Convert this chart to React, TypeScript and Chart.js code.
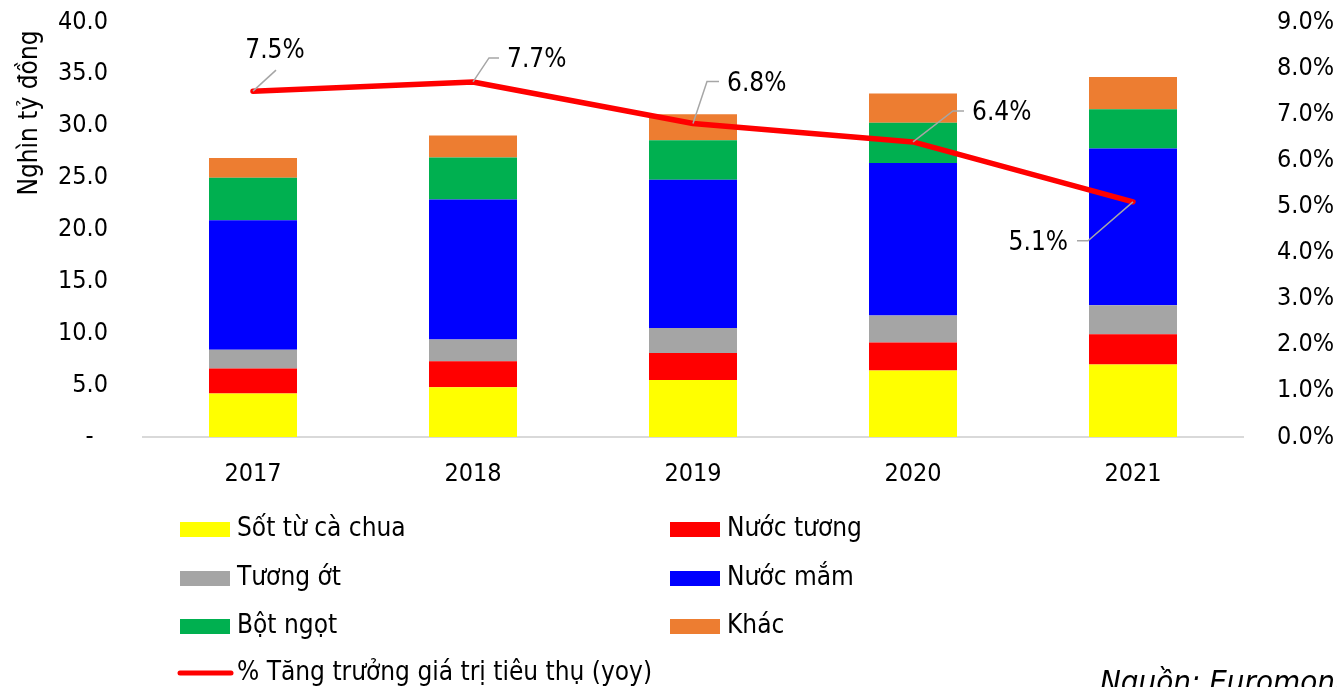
import React, { useEffect, useRef } from "react";
import { Chart, registerables } from "chart.js";

Chart.register(...registerables);

const YEARS = ["2017", "2018", "2019", "2020", "2021"];
const SOT_CA_CHUA = [4.2, 4.8, 5.5, 6.4, 7.0];
const NUOC_TUONG = [2.4, 2.5, 2.6, 2.7, 2.9];
const TUONG_OT = [1.8, 2.1, 2.4, 2.6, 2.8];
const NUOC_MAM = [12.5, 13.5, 14.3, 14.7, 15.1];
const BOT_NGOT = [4.1, 4.05, 3.8, 3.9, 3.8];
const KHAC = [1.9, 2.1, 2.5, 2.8, 3.1];
const GROWTH = [7.5, 7.7, 6.8, 6.4, 5.1];

const FONT = "'DejaVu Sans Condensed', 'DejaVu Sans', sans-serif";
const FS = 26;
const TFS = 25;

// leader line geometry per label: [dx1, dy1, dx2, dy2, textX, textY, align]
const LEADERS: [number, number, number, number, number, number, CanvasTextAlign][] = [
  [23, -21, 23, -21, 22, -40, "center"],
  [16, -24, 26, -24, 34, -22, "left"],
  [14, -42, 26, -42, 34, -39, "left"],
  [40, -31, 51, -31, 59, -29, "left"],
  [-45, 39, -56, 39, -65, 41, "right"],
];

const LEGEND_ITEMS = [
  { label: "Sốt từ cà chua", color: "#ffff00", col: 0, row: 0 },
  { label: "Nước tương", color: "#ff0000", col: 1, row: 0 },
  { label: "Tương ớt", color: "#a5a5a5", col: 0, row: 1 },
  { label: "Nước mắm", color: "#0000ff", col: 1, row: 1 },
  { label: "Bột ngọt", color: "#00b050", col: 0, row: 2 },
  { label: "Khác", color: "#ed7d31", col: 1, row: 2 },
];

const extrasPlugin = {
  id: "extras",
  afterDatasetsDraw(chart: any) {
    const ctx = chart.ctx;
    const meta = chart.getDatasetMeta(6);
    ctx.save();
    ctx.font = `${FS}px ${FONT}`;
    ctx.textBaseline = "middle";
    ctx.fillStyle = "#000";
    meta.data.forEach((pt: any, i: number) => {
      const [dx1, dy1, dx2, dy2, tx, ty, al] = LEADERS[i];
      ctx.strokeStyle = "#a6a6a6";
      ctx.lineWidth = 1.5;
      ctx.beginPath();
      ctx.moveTo(pt.x, pt.y);
      ctx.lineTo(pt.x + dx1, pt.y + dy1);
      ctx.lineTo(pt.x + dx2, pt.y + dy2);
      ctx.stroke();
      ctx.textAlign = al;
      ctx.fillText(GROWTH[i].toFixed(1) + "%", pt.x + tx, pt.y + ty);
    });
    ctx.restore();
  },
  afterDraw(chart: any) {
    const ctx = chart.ctx;
    ctx.save();
    ctx.font = `${FS}px ${FONT}`;
    ctx.fillStyle = "#000";
    ctx.textAlign = "center";
    ctx.textBaseline = "middle";
    ctx.translate(30, 113);
    ctx.rotate(-Math.PI / 2);
    ctx.fillText("Nghìn tỷ đồng", 0, 0);
    ctx.restore();

    ctx.save();
    ctx.font = `${FS}px ${FONT}`;
    ctx.textBaseline = "middle";
    ctx.textAlign = "left";
    const rows = [529, 578, 626, 673];
    const cols = [180, 670];
    LEGEND_ITEMS.forEach((it) => {
      const x = cols[it.col];
      const y = rows[it.row];
      ctx.fillStyle = it.color;
      ctx.fillRect(x, y - 7, 50, 15);
      ctx.fillStyle = "#000";
      ctx.fillText(it.label, x + 57, y);
    });
    ctx.strokeStyle = "#ff0000";
    ctx.lineWidth = 5;
    ctx.lineCap = "round";
    ctx.beginPath();
    ctx.moveTo(180, rows[3]);
    ctx.lineTo(231, rows[3]);
    ctx.stroke();
    ctx.fillStyle = "#000";
    ctx.fillText("% Tăng trưởng giá trị tiêu thụ (yoy)", 237, rows[3]);
    ctx.textBaseline = "alphabetic";
    ctx.font = `italic 31px ${FONT}`;
    ctx.fillText("Nguồn: Euromonitor", 1100, 692);
    ctx.restore();
  },
};

export default function App() {
  const ref = useRef<HTMLCanvasElement>(null);
  useEffect(() => {
    if (!ref.current) return;
    const mk = (label: string, data: number[], color: string) => ({
      type: "bar" as const,
      label,
      data,
      backgroundColor: color,
      borderWidth: 0,
      yAxisID: "y",
      barPercentage: 0.4,
      categoryPercentage: 1,
      order: 1,
    });
    const chart = new Chart(ref.current, {
      data: {
        labels: YEARS,
        datasets: [
          mk("Sốt từ cà chua", SOT_CA_CHUA, "#ffff00"),
          mk("Nước tương", NUOC_TUONG, "#ff0000"),
          mk("Tương ớt", TUONG_OT, "#a5a5a5"),
          mk("Nước mắm", NUOC_MAM, "#0000ff"),
          mk("Bột ngọt", BOT_NGOT, "#00b050"),
          mk("Khác", KHAC, "#ed7d31"),
          {
            type: "line" as const,
            label: "% Tăng trưởng giá trị tiêu thụ (yoy)",
            data: GROWTH,
            borderColor: "#ff0000",
            backgroundColor: "#ff0000",
            borderWidth: 5.5,
            pointRadius: 0,
            tension: 0,
            borderCapStyle: "round",
            borderJoinStyle: "round",
            yAxisID: "y2",
            order: 0,
          } as any,
        ],
      },
      options: {
        animation: false,
        responsive: false,
        layout: { padding: { top: 22, left: 0, right: 0, bottom: 0 } },
        plugins: { legend: { display: false }, tooltip: { enabled: false } },
        scales: {
          x: {
            stacked: true,
            grid: { display: false },
            border: { display: true, color: "#d9d9d9", width: 2 },
            ticks: { color: "#000", font: { family: FONT, size: TFS }, padding: 14 },
            afterFit: (s: any) => { s.height = 250; s.paddingLeft = 0; s.paddingRight = 0; },
          },
          y: {
            stacked: true,
            position: "left",
            min: 0,
            max: 40,
            grid: { display: false },
            border: { display: false },
            ticks: {
              stepSize: 5,
              color: "#000",
              font: { family: FONT, size: TFS },
              padding: 27,
              callback: (v: any) => (v === 0 ? "-  " : Number(v).toFixed(1)),
            },
            afterFit: (s: any) => { s.width = 143; s.paddingTop = 0; s.paddingBottom = 0; },
          },
          y2: {
            position: "right",
            min: 0,
            max: 9,
            grid: { display: false },
            border: { display: false },
            ticks: {
              stepSize: 1,
              color: "#000",
              font: { family: FONT, size: TFS },
              padding: 26,
              callback: (v: any) => Number(v).toFixed(1) + "%",
            },
            afterFit: (s: any) => { s.width = 94; s.paddingTop = 0; s.paddingBottom = 0; },
          },
        },
      },
      plugins: [extrasPlugin],
    });
    return () => chart.destroy();
  }, []);
  return (
    <div style={{ position: "fixed", left: 0, top: 0, width: 1337, height: 687, background: "#fff" }}>
      <canvas ref={ref} width={1337} height={687} style={{ width: 1337, height: 687 }} />
    </div>
  );
}
